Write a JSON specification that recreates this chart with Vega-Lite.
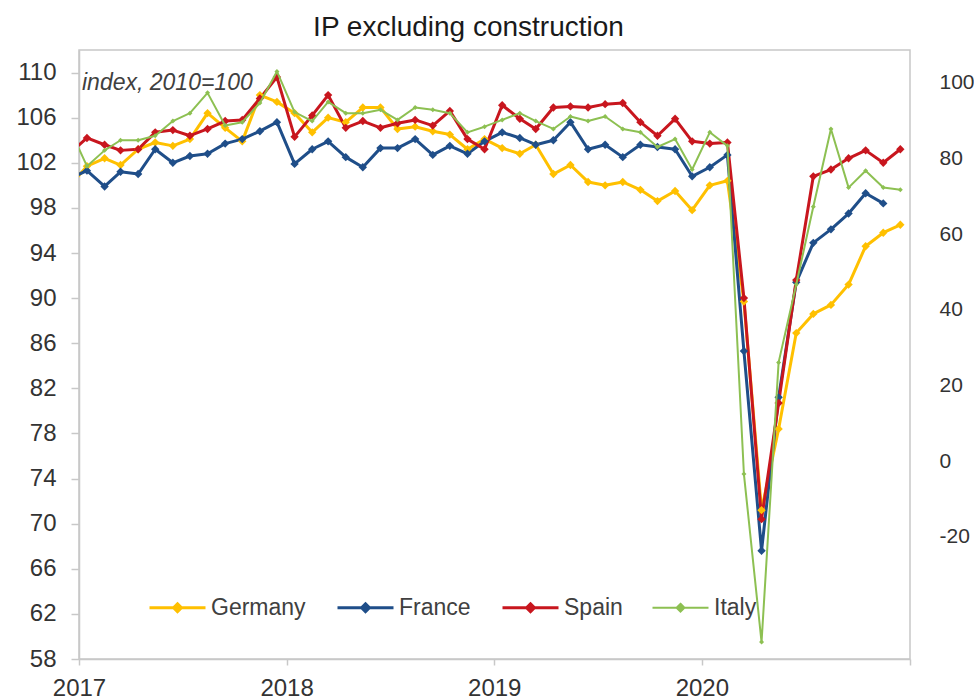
{
  "$schema": "https://vega.github.io/schema/vega-lite/v6.json",
  "width": 831,
  "height": 609,
  "autosize": {"type": "none"},
  "padding": {"left": 79, "top": 50, "right": 64, "bottom": 41},
  "background": "white",
  "config": {
    "font": "Liberation Sans",
    "view": {"stroke": "#C8C8C8", "strokeWidth": 1.5}
  },
  "title": {
    "text": "IP excluding construction",
    "fontSize": 28,
    "fontWeight": "normal",
    "color": "#1a1a1a",
    "anchor": "middle",
    "offset": 8,
    "dx": -26
  },
  "datasets": {
    "series": [
      {"country": "Germany", "date": "2016-12-15", "v": 99.9},
      {"country": "Germany", "date": "2017-01-15", "v": 101.7},
      {"country": "Germany", "date": "2017-02-15", "v": 102.4},
      {"country": "Germany", "date": "2017-03-15", "v": 101.8},
      {"country": "Germany", "date": "2017-04-15", "v": 103.2},
      {"country": "Germany", "date": "2017-05-15", "v": 103.8},
      {"country": "Germany", "date": "2017-06-15", "v": 103.5},
      {"country": "Germany", "date": "2017-07-15", "v": 104.1},
      {"country": "Germany", "date": "2017-08-15", "v": 106.4},
      {"country": "Germany", "date": "2017-09-15", "v": 105.1},
      {"country": "Germany", "date": "2017-10-15", "v": 103.9},
      {"country": "Germany", "date": "2017-11-15", "v": 108.0},
      {"country": "Germany", "date": "2017-12-15", "v": 107.4},
      {"country": "Germany", "date": "2018-01-15", "v": 106.4},
      {"country": "Germany", "date": "2018-02-15", "v": 104.7},
      {"country": "Germany", "date": "2018-03-15", "v": 106.0},
      {"country": "Germany", "date": "2018-04-15", "v": 105.6},
      {"country": "Germany", "date": "2018-05-15", "v": 106.9},
      {"country": "Germany", "date": "2018-06-15", "v": 106.9},
      {"country": "Germany", "date": "2018-07-15", "v": 105.0},
      {"country": "Germany", "date": "2018-08-15", "v": 105.2},
      {"country": "Germany", "date": "2018-09-15", "v": 104.8},
      {"country": "Germany", "date": "2018-10-15", "v": 104.5},
      {"country": "Germany", "date": "2018-11-15", "v": 103.2},
      {"country": "Germany", "date": "2018-12-15", "v": 104.1},
      {"country": "Germany", "date": "2019-01-15", "v": 103.3},
      {"country": "Germany", "date": "2019-02-15", "v": 102.8},
      {"country": "Germany", "date": "2019-03-15", "v": 103.6},
      {"country": "Germany", "date": "2019-04-15", "v": 101.0},
      {"country": "Germany", "date": "2019-05-15", "v": 101.8},
      {"country": "Germany", "date": "2019-06-15", "v": 100.3},
      {"country": "Germany", "date": "2019-07-15", "v": 100.0},
      {"country": "Germany", "date": "2019-08-15", "v": 100.3},
      {"country": "Germany", "date": "2019-09-15", "v": 99.6},
      {"country": "Germany", "date": "2019-10-15", "v": 98.6},
      {"country": "Germany", "date": "2019-11-15", "v": 99.5},
      {"country": "Germany", "date": "2019-12-15", "v": 97.8},
      {"country": "Germany", "date": "2020-01-15", "v": 100.0},
      {"country": "Germany", "date": "2020-02-15", "v": 100.4},
      {"country": "Germany", "date": "2020-03-15", "v": 89.7},
      {"country": "Germany", "date": "2020-04-15", "v": 71.2},
      {"country": "Germany", "date": "2020-05-15", "v": 78.4},
      {"country": "Germany", "date": "2020-06-15", "v": 86.9},
      {"country": "Germany", "date": "2020-07-15", "v": 88.6},
      {"country": "Germany", "date": "2020-08-15", "v": 89.4},
      {"country": "Germany", "date": "2020-09-15", "v": 91.2},
      {"country": "Germany", "date": "2020-10-15", "v": 94.6},
      {"country": "Germany", "date": "2020-11-15", "v": 95.8},
      {"country": "Germany", "date": "2020-12-15", "v": 96.5},

      {"country": "France", "date": "2016-12-15", "v": 100.6},
      {"country": "France", "date": "2017-01-15", "v": 101.3},
      {"country": "France", "date": "2017-02-15", "v": 99.9},
      {"country": "France", "date": "2017-03-15", "v": 101.2},
      {"country": "France", "date": "2017-04-15", "v": 101.0},
      {"country": "France", "date": "2017-05-15", "v": 103.2},
      {"country": "France", "date": "2017-06-15", "v": 102.0},
      {"country": "France", "date": "2017-07-15", "v": 102.6},
      {"country": "France", "date": "2017-08-15", "v": 102.8},
      {"country": "France", "date": "2017-09-15", "v": 103.7},
      {"country": "France", "date": "2017-10-15", "v": 104.1},
      {"country": "France", "date": "2017-11-15", "v": 104.8},
      {"country": "France", "date": "2017-12-15", "v": 105.6},
      {"country": "France", "date": "2018-01-15", "v": 101.9},
      {"country": "France", "date": "2018-02-15", "v": 103.2},
      {"country": "France", "date": "2018-03-15", "v": 103.9},
      {"country": "France", "date": "2018-04-15", "v": 102.5},
      {"country": "France", "date": "2018-05-15", "v": 101.6},
      {"country": "France", "date": "2018-06-15", "v": 103.3},
      {"country": "France", "date": "2018-07-15", "v": 103.3},
      {"country": "France", "date": "2018-08-15", "v": 104.1},
      {"country": "France", "date": "2018-09-15", "v": 102.7},
      {"country": "France", "date": "2018-10-15", "v": 103.5},
      {"country": "France", "date": "2018-11-15", "v": 102.8},
      {"country": "France", "date": "2018-12-15", "v": 103.9},
      {"country": "France", "date": "2019-01-15", "v": 104.7},
      {"country": "France", "date": "2019-02-15", "v": 104.2},
      {"country": "France", "date": "2019-03-15", "v": 103.6},
      {"country": "France", "date": "2019-04-15", "v": 104.0},
      {"country": "France", "date": "2019-05-15", "v": 105.6},
      {"country": "France", "date": "2019-06-15", "v": 103.2},
      {"country": "France", "date": "2019-07-15", "v": 103.6},
      {"country": "France", "date": "2019-08-15", "v": 102.5},
      {"country": "France", "date": "2019-09-15", "v": 103.6},
      {"country": "France", "date": "2019-10-15", "v": 103.4},
      {"country": "France", "date": "2019-11-15", "v": 103.2},
      {"country": "France", "date": "2019-12-15", "v": 100.8},
      {"country": "France", "date": "2020-01-15", "v": 101.6},
      {"country": "France", "date": "2020-02-15", "v": 102.7},
      {"country": "France", "date": "2020-03-15", "v": 85.3},
      {"country": "France", "date": "2020-04-15", "v": 67.6},
      {"country": "France", "date": "2020-05-15", "v": 81.2},
      {"country": "France", "date": "2020-06-15", "v": 91.4},
      {"country": "France", "date": "2020-07-15", "v": 94.9},
      {"country": "France", "date": "2020-08-15", "v": 96.1},
      {"country": "France", "date": "2020-09-15", "v": 97.5},
      {"country": "France", "date": "2020-10-15", "v": 99.3},
      {"country": "France", "date": "2020-11-15", "v": 98.4},

      {"country": "Spain", "date": "2016-12-15", "v": 102.8},
      {"country": "Spain", "date": "2017-01-15", "v": 104.2},
      {"country": "Spain", "date": "2017-02-15", "v": 103.6},
      {"country": "Spain", "date": "2017-03-15", "v": 103.1},
      {"country": "Spain", "date": "2017-04-15", "v": 103.2},
      {"country": "Spain", "date": "2017-05-15", "v": 104.7},
      {"country": "Spain", "date": "2017-06-15", "v": 104.9},
      {"country": "Spain", "date": "2017-07-15", "v": 104.4},
      {"country": "Spain", "date": "2017-08-15", "v": 105.0},
      {"country": "Spain", "date": "2017-09-15", "v": 105.7},
      {"country": "Spain", "date": "2017-10-15", "v": 105.8},
      {"country": "Spain", "date": "2017-11-15", "v": 107.7},
      {"country": "Spain", "date": "2017-12-15", "v": 109.6},
      {"country": "Spain", "date": "2018-01-15", "v": 104.3},
      {"country": "Spain", "date": "2018-02-15", "v": 106.2},
      {"country": "Spain", "date": "2018-03-15", "v": 108.0},
      {"country": "Spain", "date": "2018-04-15", "v": 105.1},
      {"country": "Spain", "date": "2018-05-15", "v": 105.7},
      {"country": "Spain", "date": "2018-06-15", "v": 105.1},
      {"country": "Spain", "date": "2018-07-15", "v": 105.5},
      {"country": "Spain", "date": "2018-08-15", "v": 105.8},
      {"country": "Spain", "date": "2018-09-15", "v": 105.3},
      {"country": "Spain", "date": "2018-10-15", "v": 106.6},
      {"country": "Spain", "date": "2018-11-15", "v": 104.1},
      {"country": "Spain", "date": "2018-12-15", "v": 103.2},
      {"country": "Spain", "date": "2019-01-15", "v": 107.1},
      {"country": "Spain", "date": "2019-02-15", "v": 105.9},
      {"country": "Spain", "date": "2019-03-15", "v": 105.0},
      {"country": "Spain", "date": "2019-04-15", "v": 106.9},
      {"country": "Spain", "date": "2019-05-15", "v": 107.0},
      {"country": "Spain", "date": "2019-06-15", "v": 106.9},
      {"country": "Spain", "date": "2019-07-15", "v": 107.2},
      {"country": "Spain", "date": "2019-08-15", "v": 107.3},
      {"country": "Spain", "date": "2019-09-15", "v": 105.6},
      {"country": "Spain", "date": "2019-10-15", "v": 104.4},
      {"country": "Spain", "date": "2019-11-15", "v": 105.9},
      {"country": "Spain", "date": "2019-12-15", "v": 103.9},
      {"country": "Spain", "date": "2020-01-15", "v": 103.7},
      {"country": "Spain", "date": "2020-02-15", "v": 103.8},
      {"country": "Spain", "date": "2020-03-15", "v": 90.0},
      {"country": "Spain", "date": "2020-04-15", "v": 70.4},
      {"country": "Spain", "date": "2020-05-15", "v": 80.7},
      {"country": "Spain", "date": "2020-06-15", "v": 91.6},
      {"country": "Spain", "date": "2020-07-15", "v": 100.8},
      {"country": "Spain", "date": "2020-08-15", "v": 101.4},
      {"country": "Spain", "date": "2020-09-15", "v": 102.4},
      {"country": "Spain", "date": "2020-10-15", "v": 103.1},
      {"country": "Spain", "date": "2020-11-15", "v": 102.0},
      {"country": "Spain", "date": "2020-12-15", "v": 103.2},

      {"country": "Italy", "date": "2016-12-15", "v": 105.1},
      {"country": "Italy", "date": "2017-01-15", "v": 101.7},
      {"country": "Italy", "date": "2017-02-15", "v": 103.1},
      {"country": "Italy", "date": "2017-03-15", "v": 104.0},
      {"country": "Italy", "date": "2017-04-15", "v": 104.0},
      {"country": "Italy", "date": "2017-05-15", "v": 104.4},
      {"country": "Italy", "date": "2017-06-15", "v": 105.7},
      {"country": "Italy", "date": "2017-07-15", "v": 106.4},
      {"country": "Italy", "date": "2017-08-15", "v": 108.2},
      {"country": "Italy", "date": "2017-09-15", "v": 105.3},
      {"country": "Italy", "date": "2017-10-15", "v": 105.6},
      {"country": "Italy", "date": "2017-11-15", "v": 107.3},
      {"country": "Italy", "date": "2017-12-15", "v": 110.1},
      {"country": "Italy", "date": "2018-01-15", "v": 106.5},
      {"country": "Italy", "date": "2018-02-15", "v": 105.7},
      {"country": "Italy", "date": "2018-03-15", "v": 107.4},
      {"country": "Italy", "date": "2018-04-15", "v": 106.4},
      {"country": "Italy", "date": "2018-05-15", "v": 106.4},
      {"country": "Italy", "date": "2018-06-15", "v": 106.7},
      {"country": "Italy", "date": "2018-07-15", "v": 105.8},
      {"country": "Italy", "date": "2018-08-15", "v": 106.9},
      {"country": "Italy", "date": "2018-09-15", "v": 106.7},
      {"country": "Italy", "date": "2018-10-15", "v": 106.4},
      {"country": "Italy", "date": "2018-11-15", "v": 104.7},
      {"country": "Italy", "date": "2018-12-15", "v": 105.2},
      {"country": "Italy", "date": "2019-01-15", "v": 105.8},
      {"country": "Italy", "date": "2019-02-15", "v": 106.4},
      {"country": "Italy", "date": "2019-03-15", "v": 105.7},
      {"country": "Italy", "date": "2019-04-15", "v": 105.0},
      {"country": "Italy", "date": "2019-05-15", "v": 106.1},
      {"country": "Italy", "date": "2019-06-15", "v": 105.7},
      {"country": "Italy", "date": "2019-07-15", "v": 106.1},
      {"country": "Italy", "date": "2019-08-15", "v": 105.0},
      {"country": "Italy", "date": "2019-09-15", "v": 104.7},
      {"country": "Italy", "date": "2019-10-15", "v": 103.4},
      {"country": "Italy", "date": "2019-11-15", "v": 104.1},
      {"country": "Italy", "date": "2019-12-15", "v": 101.4},
      {"country": "Italy", "date": "2020-01-15", "v": 104.7},
      {"country": "Italy", "date": "2020-02-15", "v": 103.5},
      {"country": "Italy", "date": "2020-03-15", "v": 74.4},
      {"country": "Italy", "date": "2020-04-15", "v": 59.5},
      {"country": "Italy", "date": "2020-05-15", "v": 84.3},
      {"country": "Italy", "date": "2020-06-15", "v": 91.2},
      {"country": "Italy", "date": "2020-07-15", "v": 98.1},
      {"country": "Italy", "date": "2020-08-15", "v": 105.0},
      {"country": "Italy", "date": "2020-09-15", "v": 99.8},
      {"country": "Italy", "date": "2020-10-15", "v": 101.3},
      {"country": "Italy", "date": "2020-11-15", "v": 99.8},
      {"country": "Italy", "date": "2020-12-15", "v": 99.6}
    ],
    "note": [{"label": "index, 2010=100"}],
    "rightAxis": [{"r": -20}, {"r": 100}]
  },
  "layer": [
    {
      "layer": [
        {
          "encoding": {
            "x": {
              "field": "date",
              "type": "temporal",
              "scale": {
                "type": "utc",
                "domain": [
                  {"year": 2017, "month": 1, "date": 1, "utc": true},
                  {"year": 2021, "month": 1, "date": 1, "utc": true}
                ]
              },
              "axis": {
                "title": null,
                "grid": false,
                "values": [
                  {"year": 2017, "month": 1, "date": 1, "utc": true},
                  {"year": 2018, "month": 1, "date": 1, "utc": true},
                  {"year": 2019, "month": 1, "date": 1, "utc": true},
                  {"year": 2020, "month": 1, "date": 1, "utc": true},
                  {"year": 2021, "month": 1, "date": 1, "utc": true}
                ],
                "format": "%Y",
                "labelExpr": "utcyear(datum.value) == 2021 ? '' : datum.label",
                "labelFlush": false,
                "labelOverlap": false,
                "labelBound": false,
                "labelFontSize": 24,
                "labelColor": "#333333",
                "labelPadding": 11,
                "tickSize": 6,
                "tickColor": "#C8C8C8",
                "tickWidth": 1.5,
                "domainColor": "#C8C8C8",
                "domainWidth": 1.5
              }
            },
            "y": {
              "field": "v",
              "type": "quantitative",
              "scale": {"domain": [58, 112], "nice": false, "zero": false},
              "axis": {
                "title": null,
                "grid": false,
                "values": [58, 62, 66, 70, 74, 78, 82, 86, 90, 94, 98, 102, 106, 110],
                "labelFontSize": 24,
                "labelColor": "#333333",
                "labelPadding": 15,
                "tickSize": 8,
                "tickColor": "#C8C8C8",
                "tickWidth": 1.5,
                "domainColor": "#C8C8C8",
                "domainWidth": 1.5
              }
            }
          },
          "layer": [
            {
              "data": {"name": "series"},
              "transform": [{"filter": {"field": "country", "oneOf": ["Germany", "France", "Spain"]}}],
              "mark": {"type": "line", "clip": true, "strokeJoin": "round", "strokeCap": "round", "strokeWidth": 3},
              "encoding": {
                "color": {
                  "field": "country",
                  "type": "nominal",
                  "scale": {
                    "domain": ["Germany", "France", "Spain", "Italy"],
                    "range": ["#FFC000", "#1F4E89", "#C8161E", "#8DC052"]
                  },
                  "legend": {
                    "orient": "none",
                    "legendX": 87,
                    "legendY": 546,
                    "direction": "horizontal",
                    "title": null,
                    "padding": 0,
                    "symbolType": "M-1,0H1M0,-0.14L0.14,0L0,0.14L-0.14,0Z",
                    "symbolSize": 3136,
                    "symbolStrokeWidth": 3,
                    "symbolOpacity": 1,
                    "labelFontSize": 23,
                    "labelColor": "#404040",
                    "labelOffset": 22,
                    "columnPadding": 25,
                    "encode": {
                      "symbols": {
                        "update": {
                          "shape": {"value": "M-1,0H1M0,-0.14L0.14,0L0,0.14L-0.14,0Z"},
                          "size": {"value": 3136},
                          "fill": {"scale": "color", "field": "value"},
                          "stroke": {"scale": "color", "field": "value"},
                          "strokeWidth": {"signal": "datum.value === 'Italy' ? 2 : 3"},
                          "opacity": {"value": 1}
                        }
                      }
                    }
                  }
                }
              }
            },
            {
              "data": {"name": "series"},
              "transform": [{"filter": {"field": "country", "oneOf": ["Germany", "France", "Spain"]}}],
              "mark": {"type": "point", "shape": "diamond", "filled": true, "opacity": 1, "clip": true, "size": 70},
              "encoding": {"color": {"field": "country", "type": "nominal"}}
            },
            {
              "data": {"name": "series"},
              "transform": [{"filter": {"field": "country", "equal": "Italy"}}],
              "mark": {"type": "line", "clip": true, "strokeJoin": "round", "strokeCap": "round", "strokeWidth": 2},
              "encoding": {"color": {"field": "country", "type": "nominal"}}
            },
            {
              "data": {"name": "series"},
              "transform": [{"filter": {"field": "country", "equal": "Italy"}}],
              "mark": {"type": "point", "shape": "diamond", "filled": true, "opacity": 1, "clip": true, "size": 25},
              "encoding": {"color": {"field": "country", "type": "nominal"}}
            }
          ]
        },
        {
          "data": {"name": "note"},
          "mark": {
            "type": "text",
            "align": "left",
            "baseline": "middle",
            "fontStyle": "italic",
            "fontSize": 23,
            "fill": "#404040",
            "dx": 3
          },
          "encoding": {
            "x": {"datum": {"year": 2017, "month": 1, "date": 1, "utc": true}, "type": "temporal"},
            "y": {"datum": 109.05, "type": "quantitative"},
            "text": {"field": "label", "type": "nominal"}
          }
        }
      ]
    },
    {
      "data": {"name": "rightAxis"},
      "mark": {"type": "point", "opacity": 0},
      "encoding": {
        "y": {
          "field": "r",
          "type": "quantitative",
          "scale": {"domain": [-52.3, 108.7], "nice": false, "zero": false},
          "axis": {
            "orient": "right",
            "title": null,
            "grid": false,
            "values": [-20, 0, 20, 40, 60, 80, 100],
            "labelExpr": "'' + datum.value",
            "domain": false,
            "ticks": false,
            "labelFontSize": 21,
            "labelColor": "#333333",
            "labelPadding": 29
          }
        }
      }
    }
  ],
  "resolve": {"scale": {"y": "independent"}}
}
